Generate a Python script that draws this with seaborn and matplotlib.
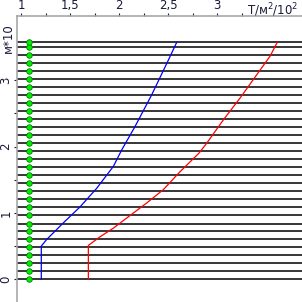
import numpy as np
import pandas as pd
import seaborn as sns
import matplotlib
matplotlib.use("Agg")
import matplotlib.pyplot as plt
from matplotlib.ticker import FixedLocator, NullFormatter

# Layer boundaries (depth, m*10)
layer_depths = [0.00, 0.12, 0.24, 0.36, 0.48, 0.60, 0.72, 0.84, 0.97, 1.09,
                1.21, 1.33, 1.45, 1.57, 1.69, 1.81, 1.93, 2.05, 2.17, 2.29,
                2.41, 2.53, 2.66, 2.78, 2.90, 3.02, 3.14, 3.26, 3.38, 3.50, 3.57]
marker_x = 1.08

# Blue curve
blue_x = [1.207, 1.207, 1.262, 1.432, 1.602, 1.772, 1.942, 2.028, 2.163, 2.334, 2.503, 2.589]
blue_y = [0.00, 0.50, 0.60, 0.85, 1.09, 1.37, 1.70, 1.95, 2.30, 2.78, 3.30, 3.57]

# Red curve
red_x = [1.687, 1.687, 1.806, 1.942, 2.112, 2.283, 2.452, 2.622, 2.816, 2.895, 3.064, 3.235, 3.405, 3.541, 3.615]
red_y = [0.00, 0.51, 0.64, 0.77, 0.96, 1.15, 1.35, 1.62, 1.90, 2.05, 2.40, 2.73, 3.08, 3.36, 3.57]

x_ticks = [1, 1.5, 2, 2.5, 3]
x_tick_labels = ["1", "1,5", "2", "2,5", "3"]
x_minor = [1.25, 1.75, 2.25, 2.75, 3.25]
y_ticks = [0, 1, 2, 3]
y_tick_labels = ["0", "1", "2", "3"]
y_minor = [0.5, 1.5, 2.5]

sns.set_style("white")
plt.rcParams['font.family'] = ['DejaVu Sans']

fig = plt.figure(figsize=(3.02, 3.02), dpi=100)
ax = fig.add_axes([16.7 / 302, 0.0, 1 - 16.7 / 302, 1 - 15.7 / 302])

for d in layer_depths:
    ax.axhline(d, color="black", lw=1.1, zorder=1)

blue_df = pd.DataFrame({"x": blue_x, "y": blue_y})
red_df = pd.DataFrame({"x": red_x, "y": red_y})
sns.lineplot(data=blue_df, x="x", y="y", sort=False, estimator=None, color="#0000ff", lw=0.9, ax=ax, zorder=3)
sns.lineplot(data=red_df, x="x", y="y", sort=False, estimator=None, color="#ff0000", lw=0.9, ax=ax, zorder=3)

mk_df = pd.DataFrame({"x": [marker_x] * len(layer_depths), "y": layer_depths})
sns.scatterplot(data=mk_df, x="x", y="y", color="#00ee00", edgecolor="#008000", linewidth=0.6, s=16, ax=ax, zorder=4)

ax.set_xlim(0.956, 3.867)
ax.set_ylim(-0.342, 3.97)

ax.xaxis.tick_top()
ax.set_xticks(x_ticks)
ax.set_xticklabels(x_tick_labels)
ax.xaxis.set_minor_locator(FixedLocator(x_minor))
ax.xaxis.set_minor_formatter(NullFormatter())
ax.set_yticks(y_ticks)
ax.set_yticklabels(y_tick_labels, rotation=90, va="center")
ax.yaxis.set_minor_locator(FixedLocator(y_minor))
ax.yaxis.set_minor_formatter(NullFormatter())

lab_color = "#1a1a3a"
ax.tick_params(axis="x", which="both", top=True, bottom=False, direction="out", length=2, width=0.8,
               pad=1.0, labelsize=8.5, colors=lab_color)
ax.tick_params(axis="y", which="both", left=True, right=False, direction="out", length=2, width=0.8,
               pad=1.0, labelsize=8.5, colors=lab_color)

for s in ["right", "bottom"]:
    ax.spines[s].set_visible(False)
for s in ["top", "left"]:
    ax.spines[s].set_visible(True)
    ax.spines[s].set_color("#a8a8a8")
    ax.spines[s].set_linewidth(1.2)

ax.set_xlabel("")
ax.set_ylabel("")
if ax.get_legend() is not None:
    ax.get_legend().remove()

fig.text(298 / 302, 1 - 10 / 302, "T/м$^2$/10$^2$", ha="right", va="center", fontsize=8.5, color=lab_color)
fig.text(8.5 / 302, 1 - 38 / 302, "м*10", rotation=90, ha="center", va="center", fontsize=8.5, color=lab_color)

fig.savefig("out.png", dpi=100, facecolor="white")
